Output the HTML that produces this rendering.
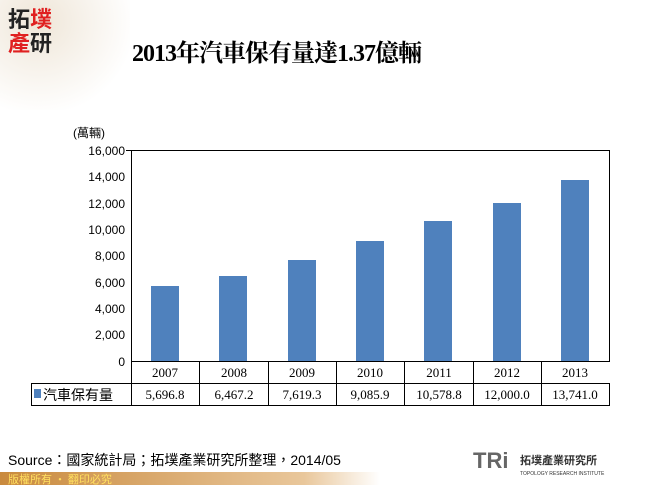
<!DOCTYPE html><html><head><meta charset="utf-8"><style>
body{margin:0;width:650px;height:485px;overflow:hidden;background:#fff;font-family:"Liberation Serif","Noto Serif CJK SC",serif;position:relative}
.t{position:absolute;white-space:nowrap}
</style></head><body>
<div style="position:absolute;left:0;top:0;width:130px;height:110px;background:radial-gradient(ellipse at 30% 20%,#efe6d8,#fff 75%)"></div>
<div class="t" style="left:8px;top:6px;font:bold 22px/24px 'Noto Sans CJK TC',sans-serif;color:#222">拓<span style="color:#e02020">墣</span><br><span style="color:#e02020">產</span>研</div>
<div class="t" style="left:132px;top:33px;font:bold 24px 'Liberation Serif','Noto Serif CJK SC',serif;color:#000;letter-spacing:-1px">2013年汽車保有量達1.37億輛</div>
<svg width="650" height="485" style="position:absolute;left:0;top:0" font-family="Liberation Sans,Noto Sans CJK TC,sans-serif" font-size="13">
<text x="73" y="137" font-size="12">(萬輛)</text>
<g stroke="#000" stroke-width="1" fill="none">
<rect x="131.5" y="150.5" width="478" height="211"/>
<line x1="126" y1="150.5" x2="131" y2="150.5"/>
</g>
<g font-size="12" text-anchor="end" fill="#000">
<text x="125" y="155">16,000</text><text x="125" y="181">14,000</text><text x="125" y="208">12,000</text><text x="125" y="234">10,000</text><text x="125" y="260">8,000</text><text x="125" y="287">6,000</text><text x="125" y="313">4,000</text><text x="125" y="339">2,000</text><text x="125" y="366">0</text>
</g>
<g fill="#4f81bd">
<rect x="151" y="286" width="28" height="75"/>
<rect x="219" y="276" width="28" height="85"/>
<rect x="288" y="260" width="28" height="101"/>
<rect x="356" y="241" width="28" height="120"/>
<rect x="424" y="221" width="28" height="140"/>
<rect x="493" y="203" width="28" height="158"/>
<rect x="561" y="180" width="28" height="181"/>
</g>
<g stroke="#000" fill="none">
<line x1="131.5" y1="383.5" x2="609.5" y2="383.5"/>
<rect x="31.5" y="383.5" width="578" height="22"/>
<line x1="131.5" y1="361" x2="131.5" y2="406"/>
<line x1="199.5" y1="361" x2="199.5" y2="406"/><line x1="268.5" y1="361" x2="268.5" y2="406"/><line x1="336.5" y1="361" x2="336.5" y2="406"/><line x1="404.5" y1="361" x2="404.5" y2="406"/><line x1="473.5" y1="361" x2="473.5" y2="406"/><line x1="541.5" y1="361" x2="541.5" y2="406"/>
</g>
<g font-family="Liberation Serif,serif" font-size="13" text-anchor="middle">
<text x="165" y="377">2007</text><text x="234" y="377">2008</text><text x="302" y="377">2009</text><text x="370" y="377">2010</text><text x="439" y="377">2011</text><text x="507" y="377">2012</text><text x="575" y="377">2013</text>
<text x="165" y="399">5,696.8</text><text x="234" y="399">6,467.2</text><text x="302" y="399">7,619.3</text><text x="370" y="399">9,085.9</text><text x="439" y="399">10,578.8</text><text x="507" y="399">12,000.0</text><text x="575" y="399">13,741.0</text>
</g>
<rect x="34" y="389" width="7" height="9" fill="#4f81bd"/>
<text x="43" y="400" font-size="14">汽車保有量</text>
<text x="8" y="465" font-size="14">Source：國家統計局；拓墣產業研究所整理，2014/05</text>
<text x="473" y="468" font-size="22" font-weight="bold" fill="#666">TRi</text>
<text x="520" y="464" font-size="11" font-weight="bold" fill="#333">拓墣產業研究所</text>
<text x="520" y="475" font-size="5" fill="#333">TOPOLOGY RESEARCH INSTITUTE</text>
</svg>
<div style="position:absolute;left:0;top:472px;width:380px;height:13px;background:linear-gradient(90deg,#c98a3e,#e9c79b 80%,#fff)"></div>
<div class="t" style="left:8px;top:471px;font:11px 'Noto Sans CJK TC',sans-serif;color:#ffe060">版權所有 • 翻印必究</div>
</body></html>
